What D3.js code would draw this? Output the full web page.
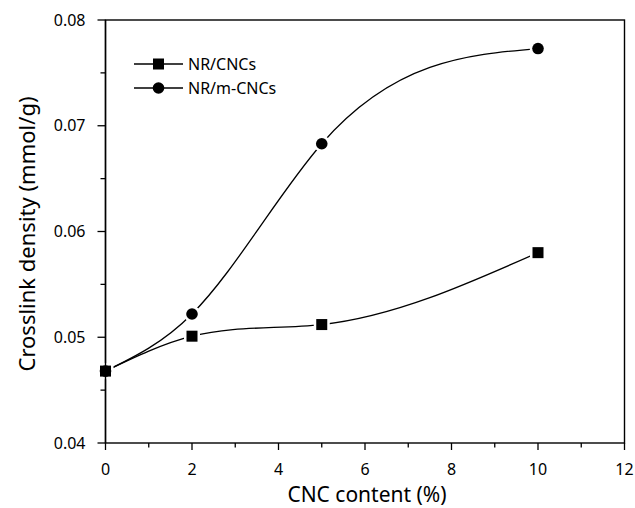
<!DOCTYPE html>
<html>
<head>
<meta charset="utf-8">
<script src="https://cdn.jsdelivr.net/npm/d3@7"></script>
<style>
  body { margin: 0; background: #fff; }
  svg { display: block; font-family: "Noto Sans", "DejaVu Sans", sans-serif; }
</style>
</head>
<body>
<div id="chart"></div>
<script>
const cncContent = [0, 2, 5, 10];
const nrCNCs = [0.0468, 0.0501, 0.0512, 0.0580];
const nrMCNCs = [0.0468, 0.0522, 0.0683, 0.0773];
const seriesNames = ['NR/CNCs', 'NR/m-CNCs'];
const xTicks = [0, 2, 4, 6, 8, 10, 12];
const yTicks = [0.04, 0.05, 0.06, 0.07, 0.08];

const width = 635, height = 508;
const margin = { left: 105.5, right: 10.5, top: 20, bottom: 65 };

// natural cubic spline with y as a function of x (d3.curveNatural is parametric)
function NaturalX(context) { this._context = context; }
NaturalX.prototype = {
    areaStart() { this._line = 0; },
    areaEnd() { this._line = NaN; },
    lineStart() { this._x = []; this._y = []; },
    point(x, y) { this._x.push(+x); this._y.push(+y); },
    lineEnd() {
        const xs = this._x, ys = this._y, n = xs.length, ctx = this._context;
        if (!n) return;
        ctx.moveTo(xs[0], ys[0]);
        if (n < 3) { if (n === 2) ctx.lineTo(xs[1], ys[1]); return; }
        const h = [], s = [];
        for (let i = 0; i < n - 1; i++) {
            h.push(xs[i + 1] - xs[i]);
            s.push((ys[i + 1] - ys[i]) / h[i]);
        }
        // solve for second derivatives, M[0] = M[n-1] = 0
        const M = new Array(n).fill(0);
        const a = [], b = [], c = [], r = [];
        for (let i = 1; i < n - 1; i++) {
            a.push(h[i - 1]);
            b.push(2 * (h[i - 1] + h[i]));
            c.push(h[i]);
            r.push(6 * (s[i] - s[i - 1]));
        }
        const m = b.length;
        for (let i = 1; i < m; i++) {
            const w = a[i] / b[i - 1];
            b[i] -= w * c[i - 1];
            r[i] -= w * r[i - 1];
        }
        M[m] = r[m - 1] / b[m - 1];
        for (let i = m - 2; i >= 0; i--) M[i + 1] = (r[i] - c[i] * M[i + 2]) / b[i];
        for (let i = 0; i < n - 1; i++) {
            const m0 = s[i] - h[i] * (2 * M[i] + M[i + 1]) / 6;
            const m1 = s[i] + h[i] * (M[i] + 2 * M[i + 1]) / 6;
            ctx.bezierCurveTo(
                xs[i] + h[i] / 3, ys[i] + m0 * h[i] / 3,
                xs[i + 1] - h[i] / 3, ys[i + 1] - m1 * h[i] / 3,
                xs[i + 1], ys[i + 1]);
        }
    }
};
const curveNaturalX = context => new NaturalX(context);

const svg = d3.select('#chart').append('svg')
    .attr('width', width)
    .attr('height', height);

const x = d3.scaleLinear().domain([0, 12]).range([margin.left, width - margin.right]);
const y = d3.scaleLinear().domain([0.04, 0.08]).range([height - margin.bottom, margin.top]);

// frame
svg.append('rect')
    .attr('x', x(0)).attr('y', y(0.08))
    .attr('width', x(12) - x(0)).attr('height', y(0.04) - y(0.08))
    .attr('fill', 'none').attr('stroke', '#000').attr('stroke-width', 1.4);

// x ticks
const xMinor = d3.range(0, 12.01, 1);
svg.append('g').selectAll('line').data(xMinor).enter().append('line')
    .attr('x1', d => x(d)).attr('x2', d => x(d))
    .attr('y1', y(0.04)).attr('y2', d => y(0.04) + (d % 2 === 0 ? 7 : 4.5))
    .attr('stroke', '#000').attr('stroke-width', 1.3);

svg.append('g').selectAll('text').data(xTicks).enter().append('text')
    .attr('x', d => x(d)).attr('y', y(0.04) + 32)
    .attr('text-anchor', 'middle')
    .style('font-size', '16px')
    .text(d => d);

// y ticks
const yMinor = d3.range(0.04, 0.08001, 0.005);
svg.append('g').selectAll('line').data(yMinor).enter().append('line')
    .attr('x1', x(0)).attr('x2', (d, i) => x(0) - (i % 2 === 0 ? 8 : 5))
    .attr('y1', d => y(d)).attr('y2', d => y(d))
    .attr('stroke', '#000').attr('stroke-width', 1.3);

svg.append('g').selectAll('text').data(yTicks).enter().append('text')
    .attr('x', x(0) - 20).attr('y', d => y(d))
    .attr('dy', '0.35em')
    .attr('text-anchor', 'end')
    .style('font-size', '16px')
    .text(d => d.toFixed(2));

// axis titles
svg.append('text')
    .attr('x', (x(0) + x(12)) / 2 + 2).attr('y', 502)
    .attr('text-anchor', 'middle')
    .style('font-size', '21px')
    .text('CNC content (%)');

svg.append('text')
    .attr('transform', 'translate(35,234) rotate(-90)')
    .attr('text-anchor', 'middle')
    .style('font-size', '22px')
    .text('Crosslink density (mmol/g)');

// curves
const line = d3.line()
    .x(d => x(d[0]))
    .y(d => y(d[1]))
    .curve(curveNaturalX);

const dataCNC = cncContent.map((c, i) => [c, nrCNCs[i]]);
const dataMCNC = cncContent.map((c, i) => [c, nrMCNCs[i]]);

[dataCNC, dataMCNC].forEach(data => {
    svg.append('path')
        .datum(data)
        .attr('d', line)
        .attr('fill', 'none')
        .attr('stroke', '#000')
        .attr('stroke-width', 1.3);
});

// markers (white halo gives the gap at each point)
svg.append('g').selectAll('rect').data(dataCNC).enter().append('rect')
    .attr('x', d => x(d[0]) - 5.5).attr('y', d => y(d[1]) - 5.5)
    .attr('width', 11).attr('height', 11)
    .attr('fill', '#000').attr('stroke', '#fff').attr('stroke-width', 5)
    .attr('paint-order', 'stroke');

svg.append('g').selectAll('circle').data(dataMCNC).enter().append('circle')
    .attr('cx', d => x(d[0])).attr('cy', d => y(d[1]))
    .attr('r', 5.8)
    .attr('fill', '#000').attr('stroke', '#fff').attr('stroke-width', 5)
    .attr('paint-order', 'stroke');

// redraw the left frame edge over the halos
svg.append('line')
    .attr('x1', x(0)).attr('x2', x(0)).attr('y1', y(0.08)).attr('y2', y(0.04))
    .attr('stroke', '#000').attr('stroke-width', 1.4);
svg.append('g').selectAll('rect').data(dataCNC.slice(0, 1)).enter().append('rect')
    .attr('x', d => x(d[0]) - 5.5).attr('y', d => y(d[1]) - 5.5)
    .attr('width', 11).attr('height', 11).attr('fill', '#000');

// legend
const legend = svg.append('g');
seriesNames.forEach((name, i) => {
    const ly = 64 + i * 24;
    legend.append('line')
        .attr('x1', 134).attr('x2', 183).attr('y1', ly).attr('y2', ly)
        .attr('stroke', '#000').attr('stroke-width', 1.3);
    if (i === 0) {
        legend.append('rect')
            .attr('x', 158.5 - 5.5).attr('y', ly - 5.5)
            .attr('width', 11).attr('height', 11).attr('fill', '#000');
    } else {
        legend.append('circle')
            .attr('cx', 158.5).attr('cy', ly).attr('r', 5.8).attr('fill', '#000');
    }
    legend.append('text')
        .attr('x', 188).attr('y', ly).attr('dy', '0.36em')
        .style('font-size', '16px')
        .text(name);
});
</script>
</body>
</html>
